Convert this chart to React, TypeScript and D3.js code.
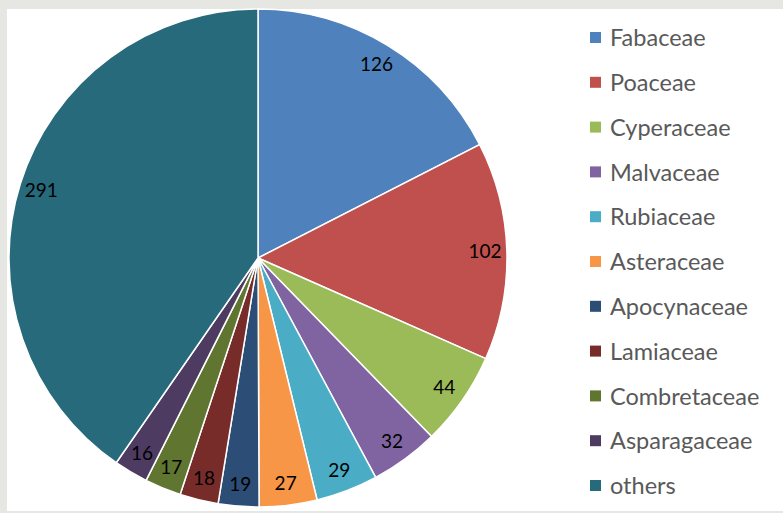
import React, { useEffect, useRef } from 'react';
import * as d3 from 'd3';

const families = ['Fabaceae', 'Poaceae', 'Cyperaceae', 'Malvaceae', 'Rubiaceae', 'Asteraceae', 'Apocynaceae', 'Lamiaceae', 'Combretaceae', 'Asparagaceae', 'others'];
const counts = [126, 102, 44, 32, 29, 27, 19, 18, 17, 16, 291];
const colors = ['#4F81BD', '#C0504D', '#9BBB59', '#8064A2', '#4BACC6', '#F79646', '#2C4D75', '#772C2A', '#5F7530', '#4D3B62', '#276A7C'];

const App: React.FC = () => {
  const svgRef = useRef<SVGSVGElement>(null);

  useEffect(() => {
    const width = 783;
    const height = 513;
    const svg = d3.select(svgRef.current)
      .attr('width', width)
      .attr('height', height)
      .attr('viewBox', [0, 0, width, height]);

    svg.selectAll('*').remove();

    // frame
    svg.append('rect').attr('width', width).attr('height', height).attr('fill', '#e6e6e2');
    svg.append('rect').attr('x', 7).attr('y', 9).attr('width', width - 7).attr('height', height - 11).attr('fill', '#ffffff');

    const cx = 258;
    const cy = 258;
    const r = 249;

    const data = families.map((name, i) => ({ name, value: counts[i], color: colors[i] }));
    const pie = d3.pie<{ name: string, value: number, color: string }>().value(d => d.value).sort(null);
    const arcs = pie(data);
    const arc = d3.arc<d3.PieArcDatum<{ name: string, value: number, color: string }>>().innerRadius(0).outerRadius(r);
    const labelArc = d3.arc<d3.PieArcDatum<{ name: string, value: number, color: string }>>().innerRadius(227).outerRadius(227);

    const g = svg.append('g').attr('transform', `translate(${cx},${cy})`);
    g.selectAll('path')
      .data(arcs)
      .enter()
      .append('path')
      .attr('d', arc)
      .attr('fill', d => d.data.color)
      .attr('stroke', '#ffffff')
      .attr('stroke-width', 1.5);

    g.selectAll('text')
      .data(arcs)
      .enter()
      .append('text')
      .attr('transform', d => `translate(${labelArc.centroid(d)})`)
      .attr('text-anchor', 'middle')
      .attr('dy', '0.35em')
      .attr('font-family', 'Lato, "Open Sans", sans-serif')
      .attr('font-size', 19)
      .attr('fill', '#000000')
      .text(d => d.data.value);

    // legend
    const ly = d3.scaleLinear().domain([0, families.length - 1]).range([38, 486]);
    const legend = svg.append('g');
    families.forEach((name, i) => {
      legend.append('rect')
        .attr('x', 590)
        .attr('y', ly(i) - 6)
        .attr('width', 11)
        .attr('height', 11)
        .attr('fill', colors[i]);
      legend.append('text')
        .attr('x', 610)
        .attr('y', ly(i))
        .attr('dy', '0.35em')
        .attr('font-family', 'Lato, "Open Sans", sans-serif')
        .attr('font-size', 23.5)
        .attr('fill', '#595959')
        .text(name);
    });
  }, []);

  return <svg ref={svgRef} style={{ position: 'fixed', left: 0, top: 0, display: 'block' }}></svg>;
};

export default App;
